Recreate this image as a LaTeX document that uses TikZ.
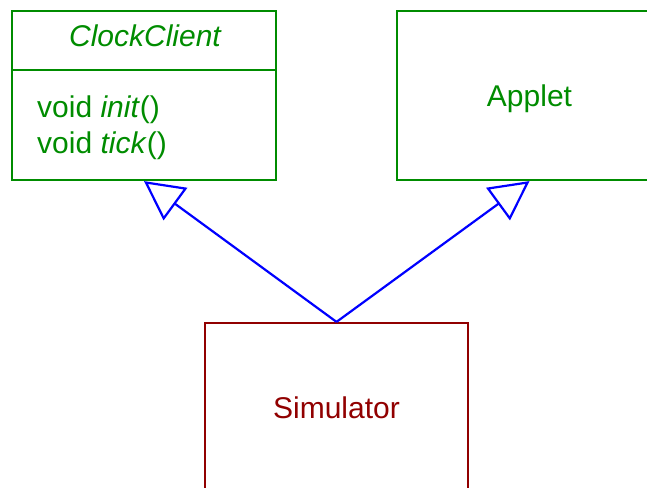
\documentclass[tikz,border=0pt]{standalone}
\usepackage{fontspec}
\setmainfont{Liberation Sans}
\usetikzlibrary{arrows.meta,calc}
\definecolor{umlgreen}{RGB}{0,140,0}
\definecolor{umlred}{RGB}{145,0,0}
\definecolor{umlblue}{RGB}{0,0,255}
\begin{document}
\begin{tikzpicture}[x=1pt,y=1pt,
  classbox/.style={draw, line width=2.2pt, minimum width=264pt, minimum height=169pt, inner sep=0pt},
  greenbox/.style={classbox, draw=umlgreen},
  redbox/.style={classbox, draw=umlred},
  lbl/.style={font=\fontsize{30}{36}\selectfont, inner sep=0pt, anchor=base},
  inherit/.style={draw=umlblue, line width=2.2pt, -{Triangle[open, length=39pt, width=40pt, line width=2.2pt]}}
]
\useasboundingbox (0,0) rectangle (647,487);
\clip (0,0) rectangle (647,487);
% boxes
\node[greenbox] (cc) at (144,391.5) {};
\node[greenbox, minimum width=265pt] (ap) at (529.5,391.5) {};
\node[redbox, minimum width=263pt, minimum height=168pt] (sim) at (336.5,80) {};
% divider
\draw[umlgreen, line width=2.2pt] ($(cc.north west)+(0,-60)$) -- ($(cc.north east)+(0,-60)$);
% texts
\node[lbl, text=umlgreen] (cctitle) at (145,440) {\itshape ClockClient};
\node[lbl, text=umlgreen, anchor=base west] (m1) at (37,369) {void \textit{init}()};
\node[lbl, text=umlgreen, anchor=base west] (m2) at (37,333) {void \textit{tick}()};
\node[lbl, text=umlgreen] (aptext) at (529.5,380) {Applet};
\node[lbl, text=umlred] (simtext) at (336.5,69) {Simulator};
% connectors
\draw[inherit] (sim.north) -- (cc.south);
\draw[inherit] (sim.north) -- (ap.south);
\end{tikzpicture}
\end{document}
